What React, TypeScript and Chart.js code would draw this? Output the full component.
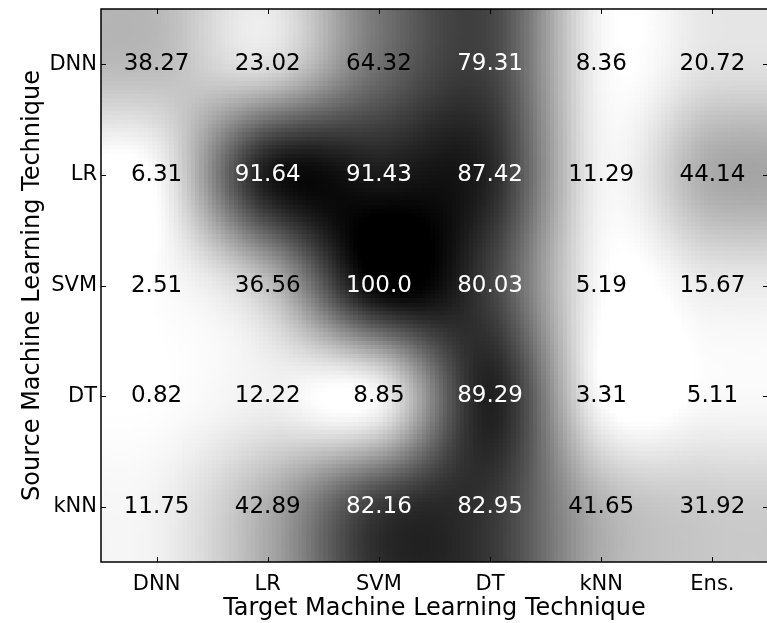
import React, { useEffect, useRef } from 'react';
import { Chart, registerables } from 'chart.js';
Chart.register(...registerables);

const targetLabels = ['DNN', 'LR', 'SVM', 'DT', 'kNN', 'Ens.'];
const sourceLabels = ['DNN', 'LR', 'SVM', 'DT', 'kNN'];
const rowDNN = [38.27, 23.02, 64.32, 79.31, 8.36, 20.72];
const rowLR = [6.31, 91.64, 91.43, 87.42, 11.29, 44.14];
const rowSVM = [2.51, 36.56, 100.0, 80.03, 5.19, 15.67];
const rowDT = [0.82, 12.22, 8.85, 89.29, 3.31, 5.11];
const rowKNN = [11.75, 42.89, 82.16, 82.95, 41.65, 31.92];
const values = [rowDNN, rowLR, rowSVM, rowDT, rowKNN];

// "Greys" colormap anchor levels (white -> black)
const greysStops = [255, 240, 217, 189, 150, 115, 82, 37, 0];

const FONT = "'DejaVu Sans', sans-serif";

function greys(t: number) {
  const tt = Math.max(0, Math.min(1, t)) * (greysStops.length - 1);
  const i = Math.min(greysStops.length - 2, Math.floor(tt));
  const f = tt - i;
  return greysStops[i] * (1 - f) + greysStops[i + 1] * f;
}

function kernel(t: number) {
  const a = -0.5;
  const x = Math.abs(t);
  if (x <= 1) return (a + 2) * x * x * x - (a + 3) * x * x + 1;
  if (x < 2) return a * x * x * x - 5 * a * x * x + 8 * a * x - 4 * a;
  return 0;
}

const heatmapPlugin = {
  id: 'heatmap',
  beforeDatasetsDraw(chart: any) {
    const { ctx } = chart;
    const xs = chart.scales.x;
    const ys = chart.scales.y;
    const nC = targetLabels.length;
    const nR = sourceLabels.length;
    const flat = values.flat();
    const vMin = Math.min(...flat);
    const vMax = Math.max(...flat);
    const grays = values.map((row) => row.map((v) => greys((v - vMin) / (vMax - vMin))));
    const S = 26;
    const W = nC * S;
    const H = nR * S;
    const off = document.createElement('canvas');
    off.width = W;
    off.height = H;
    const octx = off.getContext('2d')!;
    const img = octx.createImageData(W, H);
    const cl = (v: number, lo: number, hi: number) => Math.max(lo, Math.min(hi, v));
    const get = (r: number, c: number) => grays[cl(r, 0, nR - 1)][cl(c, 0, nC - 1)];
    for (let j = 0; j < H; j++) {
      const v = (j + 0.5) / S - 0.5;
      const r0 = Math.floor(v);
      const fy = v - r0;
      const wy = [kernel(1 + fy), kernel(fy), kernel(1 - fy), kernel(2 - fy)];
      for (let i = 0; i < W; i++) {
        const u = (i + 0.5) / S - 0.5;
        const c0 = Math.floor(u);
        const fx = u - c0;
        const wx = [kernel(1 + fx), kernel(fx), kernel(1 - fx), kernel(2 - fx)];
        let s = 0;
        for (let m = 0; m < 4; m++) {
          for (let n = 0; n < 4; n++) {
            s += wy[m] * wx[n] * get(r0 - 1 + m, c0 - 1 + n);
          }
        }
        const g = Math.round(cl(s, 0, 255));
        const idx = (j * W + i) * 4;
        img.data[idx] = g;
        img.data[idx + 1] = g;
        img.data[idx + 2] = g;
        img.data[idx + 3] = 255;
      }
    }
    octx.putImageData(img, 0, 0);
    const x0 = xs.getPixelForValue(-0.5);
    const x1 = xs.getPixelForValue(nC - 0.5);
    const y0 = ys.getPixelForValue(-0.5);
    const y1 = ys.getPixelForValue(nR - 0.5);
    ctx.save();
    ctx.imageSmoothingEnabled = false;
    ctx.drawImage(off, Math.min(x0, x1), Math.min(y0, y1), Math.abs(x1 - x0), Math.abs(y1 - y0));
    ctx.restore();
  },
  afterDatasetsDraw(chart: any) {
    const { ctx } = chart;
    const xs = chart.scales.x;
    const ys = chart.scales.y;
    ctx.save();
    ctx.font = `23px ${FONT}`;
    ctx.textAlign = 'center';
    ctx.textBaseline = 'alphabetic';
    values.forEach((row, r) => {
      row.forEach((v, c) => {
        const px = xs.getPixelForValue(c);
        const py = ys.getPixelForValue(r);
        ctx.fillStyle = v > 70 ? '#ffffff' : '#000000';
        ctx.fillText(v.toFixed(2).replace(/^100\.00$/, '100.0'), px, py + 6);
      });
    });
    ctx.restore();
  },
  afterDraw(chart: any) {
    const { ctx, chartArea: a } = chart;
    const xs = chart.scales.x;
    const ys = chart.scales.y;
    ctx.save();
    ctx.strokeStyle = '#000';
    ctx.lineWidth = 1.5;
    ctx.strokeRect(a.left, a.top, a.right - a.left, a.bottom - a.top);
    ctx.lineWidth = 1;
    const L = 5;
    ctx.beginPath();
    targetLabels.forEach((_, i) => {
      const px = Math.round(xs.getPixelForValue(i)) + 0.5;
      ctx.moveTo(px, a.bottom);
      ctx.lineTo(px, a.bottom - L);
      ctx.moveTo(px, a.top);
      ctx.lineTo(px, a.top + L);
    });
    sourceLabels.forEach((_, i) => {
      const py = Math.round(ys.getPixelForValue(i)) + 0.5;
      ctx.moveTo(a.left, py);
      ctx.lineTo(a.left + L, py);
      ctx.moveTo(a.right, py);
      ctx.lineTo(a.right - L, py);
    });
    ctx.stroke();
    ctx.restore();
  },
};

export default function App() {
  const ref = useRef<HTMLCanvasElement>(null);
  useEffect(() => {
    const points: { x: number; y: number }[] = [];
    values.forEach((row, r) => row.forEach((_, c) => points.push({ x: c, y: r })));
    const chart = new Chart(ref.current!, {
      type: 'scatter',
      data: {
        datasets: [{ data: points, pointRadius: 0, pointHoverRadius: 0 }],
      },
      options: {
        animation: false,
        responsive: false,
        devicePixelRatio: 1,
        layout: { padding: { top: 9, right: 2, left: 0, bottom: 0 } },
        plugins: { legend: { display: false }, tooltip: { enabled: false } },
        scales: {
          x: {
            type: 'linear',
            min: -0.5,
            max: targetLabels.length - 0.5,
            grid: { display: false, drawTicks: false },
            border: { display: false },
            afterBuildTicks: (s: any) => {
              s.ticks = targetLabels.map((_, i) => ({ value: i }));
            },
            afterFit: (s: any) => {
              s.height = 61;
              s.paddingLeft = 0;
              s.paddingRight = 0;
            },
            ticks: {
              autoSkip: false,
              maxRotation: 0,
              padding: 10,
              color: '#000',
              font: { family: FONT, size: 21 },
              callback: (v: any) => targetLabels[v as number] ?? '',
            },
            title: {
              display: true,
              text: 'Target Machine Learning Technique',
              color: '#000',
              font: { family: FONT, size: 24 },
              padding: { top: 2, bottom: 0 },
            },
          },
          y: {
            type: 'linear',
            reverse: true,
            min: -0.5,
            max: sourceLabels.length - 0.5,
            grid: { display: false, drawTicks: false },
            border: { display: false },
            afterBuildTicks: (s: any) => {
              s.ticks = sourceLabels.map((_, i) => ({ value: i }));
            },
            afterFit: (s: any) => {
              s.width = 101;
              s.paddingTop = 0;
              s.paddingBottom = 0;
            },
            ticks: {
              autoSkip: false,
              padding: 4,
              color: '#000',
              font: { family: FONT, size: 21 },
              callback: (v: any) => sourceLabels[v as number] ?? '',
            },
            title: {
              display: true,
              text: 'Source Machine Learning Technique',
              color: '#000',
              font: { family: FONT, size: 24 },
              padding: { top: 18, bottom: 0 },
            },
          },
        },
      },
      plugins: [heatmapPlugin],
    });
    return () => chart.destroy();
  }, []);
  return (
    <div style={{ position: 'fixed', left: 0, top: 0, width: 770, height: 623, background: '#fff' }}>
      <canvas ref={ref} width={770} height={623} style={{ display: 'block', width: 770, height: 623 }} />
    </div>
  );
}
